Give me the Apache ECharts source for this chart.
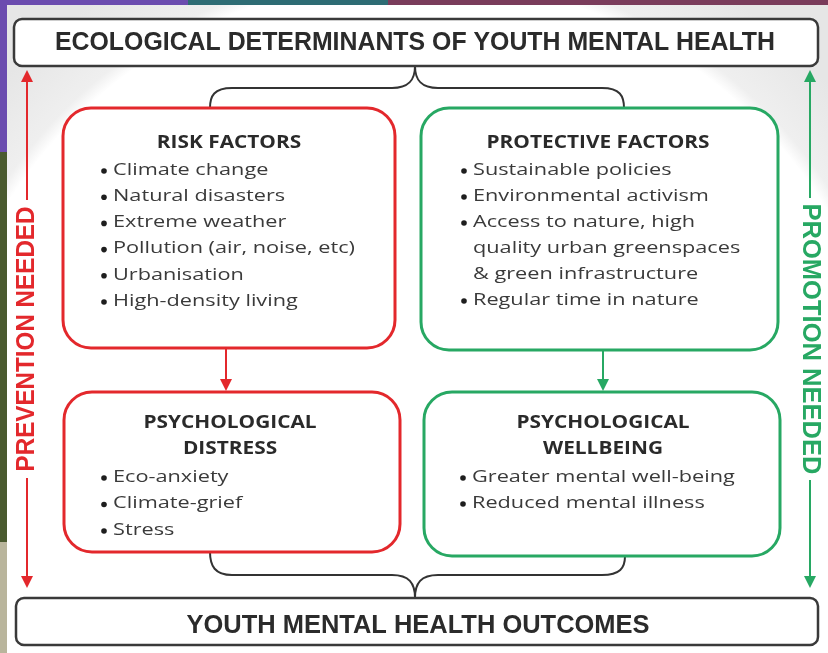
<!DOCTYPE html>
<html><head><meta charset="utf-8">
<script src="https://cdn.jsdelivr.net/npm/echarts@6/dist/echarts.min.js"></script>
<style>html,body{margin:0;padding:0;background:#fff}#c{width:828px;height:653px}</style>
</head><body><div id="c"></div>
<script>
// ---- content ----
const mainTitle = 'ECOLOGICAL DETERMINANTS OF YOUTH MENTAL HEALTH';
const bottomTitle = 'YOUTH MENTAL HEALTH OUTCOMES';
const leftLabel = 'PREVENTION NEEDED';
const rightLabel = 'PROMOTION NEEDED';
const riskTitle = ['RISK FACTORS'];
const riskItems = ['Climate change', 'Natural disasters', 'Extreme weather', 'Pollution (air, noise, etc)', 'Urbanisation', 'High-density living'];
const protTitle = ['PROTECTIVE FACTORS'];
const protItems = ['Sustainable policies', 'Environmental activism', 'Access to nature, high\nquality urban greenspaces\n& green infrastructure', 'Regular time in nature'];
const distressTitle = ['PSYCHOLOGICAL', 'DISTRESS'];
const distressItems = ['Eco-anxiety', 'Climate-grief', 'Stress'];
const wellTitle = ['PSYCHOLOGICAL', 'WELLBEING'];
const wellItems = ['Greater mental well-being', 'Reduced mental illness'];

// ---- styles ----
const RED = '#e3282c', GREEN = '#27a863', DARK = '#3a3a3a', TXT = '#333333';
const cv = document.createElement('canvas').getContext('2d');
function measure(t, font) { cv.font = font; return cv.measureText(t).width; }

const TITLE_FONT = { family: 'Liberation Sans', weight: 'bold', size: 25 };
const HEAD_FONT = { family: 'Open Sans', weight: 'bold', size: 17 };
const BODY_FONT = { family: 'Open Sans', weight: 'normal', size: 17 };
const fstr = f => f.weight + ' ' + f.size + 'px "' + f.family + '"';
const headScale = 223 / measure('PROTECTIVE FACTORS', fstr(HEAD_FONT));
const bodyScale = 242 / measure('Pollution (air, noise, etc)', fstr(BODY_FONT));

function txt(t, x, y, f, o) {
  o = o || {};
  return {
    type: 'text', x: x, y: y, rotation: o.rot || 0, scaleX: o.sx || 1, z: 20,
    style: {
      text: t, fill: o.color || TXT, fontFamily: f.family, fontWeight: f.weight, fontSize: f.size,
      textAlign: o.align || 'left', align: o.align || 'left',
      textVerticalAlign: 'middle', verticalAlign: 'middle'
    }
  };
}
function fitTxt(t, x, y, f, w, o) {
  o = o || {};
  o.sx = w / measure(t, fstr(f));
  o.align = 'center';
  return txt(t, x, y, f, o);
}

const els = [];
// background
els.push({ type: 'rect', shape: { x: 0, y: 0, width: 828, height: 653 }, z: 0,
  style: { fill: { type: 'radial', x: 415, y: 460, r: 560, global: true,
    colorStops: [{ offset: 0, color: '#ffffff' }, { offset: 0.86, color: '#ffffff' }, { offset: 0.885, color: '#efefef' }, { offset: 1, color: '#e6e6e6' }] } } });
// decorative frame strips
els.push({ type: 'rect', shape: { x: 0, y: 0, width: 188, height: 5 }, z: 1, style: { fill: '#6b4caf' } });
els.push({ type: 'rect', shape: { x: 188, y: 0, width: 200, height: 5 }, z: 1, style: { fill: '#2e6c74' } });
els.push({ type: 'rect', shape: { x: 388, y: 0, width: 440, height: 5 }, z: 1, style: { fill: '#7a3c5b' } });
els.push({ type: 'rect', shape: { x: 0, y: 0, width: 7, height: 152 }, z: 1, style: { fill: '#6b4caf' } });
els.push({ type: 'rect', shape: { x: 0, y: 152, width: 7, height: 390 }, z: 1, style: { fill: '#4a5a2f' } });
els.push({ type: 'rect', shape: { x: 0, y: 542, width: 7, height: 111 }, z: 1, style: { fill: '#b9b59c' } });

// title boxes
els.push({ type: 'rect', shape: { x: 14, y: 19, width: 804, height: 47, r: 8 }, z: 5, style: { fill: '#fff', stroke: DARK, lineWidth: 2.5 } });
els.push(fitTxt(mainTitle, 415, 43, TITLE_FONT, 720, { color: '#2b2b2b' }));
els.push({ type: 'rect', shape: { x: 16, y: 598, width: 802, height: 47, r: 8 }, z: 5, style: { fill: '#fff', stroke: DARK, lineWidth: 2.5 } });
els.push(fitTxt(bottomTitle, 418, 626, TITLE_FONT, 463, { color: '#2b2b2b' }));

// braces (bezier segments + straight lines)
function bez(x1, y1, c1x, c1y, c2x, c2y, x2, y2) {
  els.push({ type: 'bezierCurve', z: 4, shape: { x1: x1, y1: y1, cpx1: c1x, cpy1: c1y, cpx2: c2x, cpy2: c2y, x2: x2, y2: y2 },
    style: { fill: null, stroke: '#333', lineWidth: 2 } });
}
function seg(x1, y1, x2, y2, c, w) {
  els.push({ type: 'line', z: 4, shape: { x1: x1, y1: y1, x2: x2, y2: y2 }, style: { stroke: c || '#333', lineWidth: w || 2 } });
}
// top brace
bez(415, 66, 415, 80, 409, 88, 392, 88); seg(392, 88, 232, 88); bez(232, 88, 214, 88, 210, 96, 210, 108);
bez(415, 66, 415, 80, 421, 88, 438, 88); seg(438, 88, 602, 88); bez(602, 88, 620, 88, 624, 96, 624, 108);
// bottom brace
bez(210, 552, 210, 566, 215, 575, 232, 575); seg(232, 575, 392, 575); bez(392, 575, 409, 575, 415, 583, 415, 598);
bez(625, 556, 625, 568, 620, 575, 602, 575); seg(602, 575, 438, 575); bez(438, 575, 421, 575, 415, 583, 415, 598);

// coloured boxes
function box(x, y, w, h, c) {
  return { type: 'rect', shape: { x: x, y: y, width: w, height: h, r: 28 }, z: 6, style: { fill: '#fff', stroke: c, lineWidth: 3 } };
}
els.push(box(63, 108, 332, 240, RED));
els.push(box(421, 108, 357, 242, GREEN));
els.push(box(64, 392, 336, 160, RED));
els.push(box(424, 392, 356, 164, GREEN));

// arrows
function vArrow(x, y1, y2, c) {
  const dir = y2 > y1 ? 1 : -1;
  els.push({ type: 'line', z: 7, shape: { x1: x, y1: y1, x2: x, y2: y2 - dir * 10 }, style: { stroke: c, lineWidth: 2 } });
  els.push({ type: 'polygon', z: 7, shape: { points: [[x, y2], [x - 6, y2 - dir * 12], [x + 6, y2 - dir * 12]] }, style: { fill: c } });
}
vArrow(226, 349, 391, RED);
vArrow(603, 351, 391, GREEN);
vArrow(27, 200, 70, RED);
vArrow(27, 478, 588, RED);
vArrow(810, 198, 70, GREEN);
vArrow(810, 480, 588, GREEN);
els.push(fitTxt(leftLabel, 27, 339, TITLE_FONT, 265, { color: RED, rot: Math.PI / 2 }));
els.push(fitTxt(rightLabel, 810, 339, TITLE_FONT, 271, { color: GREEN, rot: -Math.PI / 2 }));

// box contents
function content(heads, headCx, headY, items, bx, tx, y0, step) {
  heads.forEach((h, i) => {
    els.push(txt(h, headCx, headY + i * 26, HEAD_FONT, { color: '#2a2a2a', sx: headScale, align: 'center' }));
  });
  let k = 0;
  items.forEach(it => {
    it.split('\n').forEach((line, j) => {
      const y = y0 + k * step;
      if (j === 0) els.push({ type: 'circle', z: 20, shape: { cx: bx, cy: y + 1, r: 2.8 }, style: { fill: '#1e1e1e' } });
      els.push(txt(line, tx, y, BODY_FONT, { color: '#3a3a3a', sx: bodyScale }));
      k++;
    });
  });
}
content(riskTitle, 229, 143, riskItems, 104, 113, 170, 26.2);
content(protTitle, 598, 143, protItems, 464, 473, 170, 26);
content(distressTitle, 230, 423, distressItems, 104, 113, 477, 26.5);
content(wellTitle, 603, 423, wellItems, 463, 472, 477, 26);

const chart = echarts.init(document.getElementById('c'), null, { renderer: 'canvas' });
chart.setOption({ animation: false, graphic: { elements: els } });
</script></body></html>
